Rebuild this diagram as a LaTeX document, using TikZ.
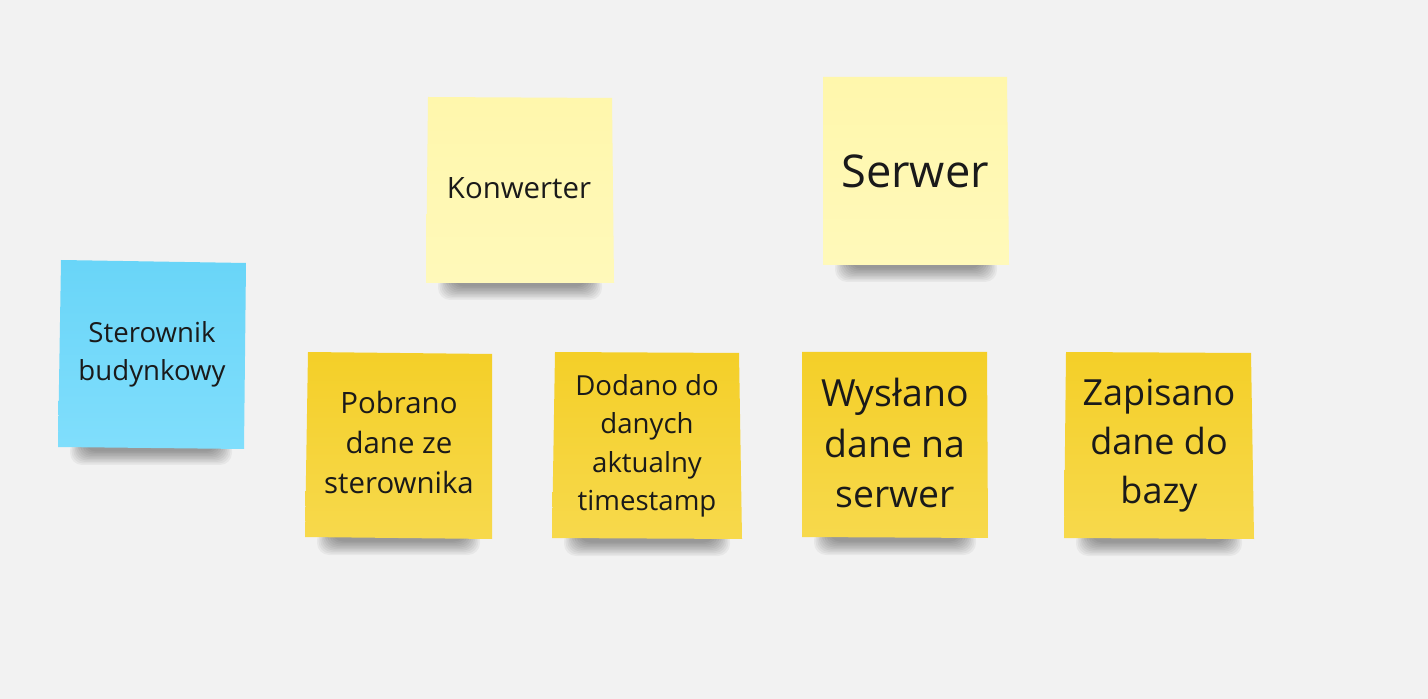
\documentclass[tikz,border=0pt]{standalone}
\usepackage{fontspec}
\setmainfont{Open Sans}
\definecolor{bg}{HTML}{F2F2F2}
\definecolor{txt}{HTML}{1A1A1A}
\definecolor{bluetop}{HTML}{69D5F8}
\definecolor{bluebot}{HTML}{80DEFC}
\definecolor{lytop}{HTML}{FFF7AC}
\definecolor{lybot}{HTML}{FFF9BA}
\definecolor{ytop}{HTML}{F4CF28}
\definecolor{ybot}{HTML}{F7D94C}
\tikzset{
  notetext/.style={text=txt, align=center, inner sep=0pt},
  shadowlayer/.style={fill=black, fill opacity=0.045, rounded corners=6},
  bluenote/.style={top color=bluetop, bottom color=bluebot},
  lightnote/.style={top color=lytop, bottom color=lybot},
  yellownote/.style={top color=ytop, bottom color=ybot}
}
\newcommand{\mynoteshadow}[3]{%
  \foreach \i in {0,...,9}{%
    \fill[shadowlayer] ({#1+12+\i*1.6},{#3-10}) rectangle ({#2-12-\i*1.6},{#3+17-\i*1.5});
  }%
}
\begin{document}
\begin{tikzpicture}[x=0.5pt, y=-0.5pt]
\useasboundingbox (0,0) rectangle (1428,699);
\fill[bg] (0,0) rectangle (1428,699);

% Sterownik budynkowy
\mynoteshadow{58}{244}{448}
\path[bluenote] (61,260) -- (246,263) -- (244,449) -- (58,447) -- cycle;
\node[notetext, font=\fontsize{13.8pt}{19pt}\selectfont] (sterownik) at (152,354) {Sterownik\\budynkowy};

% Konwerter
\mynoteshadow{426}{614}{283}
\path[lightnote] (428,97) -- (612,98) -- (614,283) -- (426,283) -- cycle;
\node[notetext, font=\fontsize{14.7pt}{19pt}\selectfont] (konwerter) at (519,188) {Konwerter};

% Serwer
\mynoteshadow{823}{1009}{265}
\path[lightnote] (823,77) -- (1007,77) -- (1009,265) -- (823,265) -- cycle;
\node[notetext, font=\fontsize{22.6pt}{28pt}\selectfont] (serwer) at (915,171) {Serwer};

% Pobrano dane ze sterownika
\mynoteshadow{305}{492}{538}
\path[yellownote] (308,352) -- (492,354) -- (492,539) -- (305,537) -- cycle;
\node[notetext, font=\fontsize{14.7pt}{20pt}\selectfont] (pobrano) at (399,442) {Pobrano\\dane ze\\sterownika};

% Dodano do danych aktualny timestamp
\mynoteshadow{552}{742}{539}
\path[yellownote] (555,352) -- (739,353) -- (742,539) -- (552,538) -- cycle;
\node[notetext, font=\fontsize{13.8pt}{19.25pt}\selectfont] (dodano) at (647,446) {Dodano do\\danych\\aktualny\\timestamp};

% Wysłano dane na serwer
\mynoteshadow{802}{988}{538}
\path[yellownote] (802,352) -- (987,352) -- (988,538) -- (802,537) -- cycle;
\node[notetext, font=\fontsize{18.7pt}{25.25pt}\selectfont] (wyslano) at (895,443) {Wysłano\\dane na\\serwer};

% Zapisano dane do bazy
\mynoteshadow{1064}{1254}{539}
\path[yellownote] (1066,352) -- (1251,353) -- (1254,539) -- (1064,538) -- cycle;
\node[notetext, font=\fontsize{18pt}{24.5pt}\selectfont] (zapisano) at (1159,446) {Zapisano\\dane do\\bazy};
\end{tikzpicture}
\end{document}
